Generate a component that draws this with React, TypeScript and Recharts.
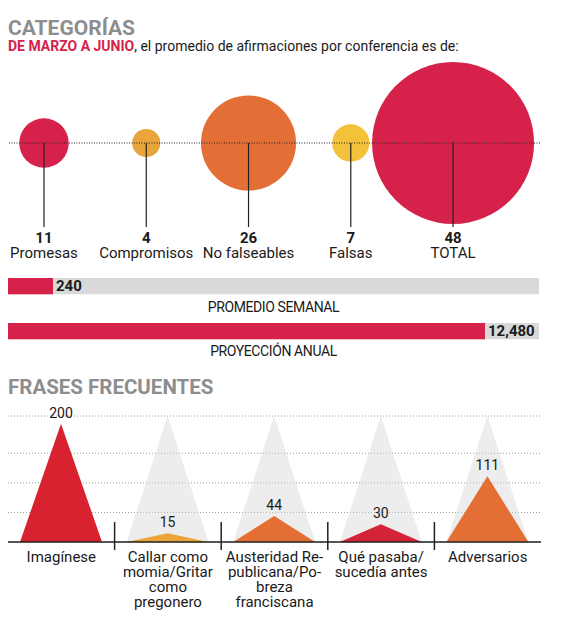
import type { CSSProperties, ReactNode } from 'react';
import {
  Bar,
  BarChart,
  CartesianGrid,
  Cell,
  LabelList,
  ReferenceLine,
  Scatter,
  ScatterChart,
  XAxis,
  YAxis,
  ZAxis,
} from 'recharts';

// Categorías (promedio por conferencia)
const CATEGORIAS = ['Promesas', 'Compromisos', 'No falseables', 'Falsas', 'TOTAL'];
const CATEGORIA_VALUES = [11, 4, 26, 7, 48];
const CATEGORIA_COLORS = ['#d6224a', '#e9a53b', '#e46f36', '#f4c13a', '#d6224a'];

// Barras de totales
const SEMANAL_LABEL = 'PROMEDIO SEMANAL';
const SEMANAL_VALUE = 240;
const ANUAL_LABEL = 'PROYECCIÓN ANUAL';
const ANUAL_VALUE = 12480;

// Frases frecuentes
const FRASES = [
  'Imagínese',
  'Callar como\nmomia/Gritar\ncomo\npregonero',
  'Austeridad Re-\npublicana/Po-\nbreza\nfranciscana',
  'Qué pasaba/\nsucedía antes',
  'Adversarios',
];
const FRASE_VALUES = [200, 15, 44, 30, 111];
const FRASE_COLORS = ['#d8222f', '#e9a53b', '#e46f35', '#d42336', '#e46f35'];
const FRASE_GRID = [50, 100, 150];

const FONT = 'Roboto, "DejaVu Sans", sans-serif';
const RED = '#d6224a';
const INK = '#1a1a1a';

// absolute text placed by its baseline (Roboto metrics)
function Txt({
  left,
  width,
  baseline,
  size,
  style,
  children,
}: {
  left: number;
  width?: number;
  baseline: number;
  size: number;
  style?: CSSProperties;
  children: ReactNode;
}) {
  return (
    <div
      style={{
        position: 'absolute',
        left,
        width,
        top: baseline - 0.842 * size,
        fontSize: size,
        lineHeight: `${size}px`,
        whiteSpace: 'nowrap',
        color: INK,
        ...style,
      }}
    >
      {children}
    </div>
  );
}

const bubbleData = CATEGORIAS.map((name, idx) => ({
  idx,
  y: 0,
  name,
  value: CATEGORIA_VALUES[idx],
}));

function Bubble(props: any) {
  const { cx, cy, size, width, index } = props;
  const r = typeof size === 'number' ? size : width / 2;
  return (
    <g>
      <circle cx={cx} cy={cy} r={r} fill={CATEGORIA_COLORS[index]} />
      <line x1={cx} y1={cy} x2={cx} y2={cy + 84} stroke="#222" strokeWidth={1.2} />
    </g>
  );
}

function BubbleTick(props: any) {
  const { x, y, payload } = props;
  const i = payload.value as number;
  return (
    <g>
      <text x={x} y={y + 17} textAnchor="middle" fontSize={15} fontWeight={700} fill={INK} fontFamily={FONT}>
        {CATEGORIA_VALUES[i]}
      </text>
      <text x={x} y={y + 32} textAnchor="middle" fontSize={15} fill={INK} fontFamily={FONT}>
        {CATEGORIAS[i]}
      </text>
    </g>
  );
}

function BarValue(props: any) {
  const { x, y, width, height, value } = props;
  return (
    <text
      x={x + width + 3}
      y={y + height / 2 + 5}
      fontSize={15}
      fontWeight={700}
      fill={INK}
      fontFamily={FONT}
    >
      {Number(value).toLocaleString('en-US')}
    </text>
  );
}

function TotalBar({ label, value, max }: { label: string; value: number; max: number }) {
  return (
    <BarChart
      width={573}
      height={32}
      layout="vertical"
      data={[{ name: label, value }]}
      margin={{ top: 7, right: 34, bottom: 7, left: 8 }}
    >
      <XAxis type="number" hide domain={[0, max]} allowDataOverflow />
      <YAxis type="category" dataKey="name" hide />
      <Bar
        dataKey="value"
        fill={RED}
        barSize={18}
        background={{ fill: '#d9d9d9' }}
        isAnimationActive={false}
      >
        <LabelList dataKey="value" content={BarValue} />
      </Bar>
    </BarChart>
  );
}

const fraseData = FRASES.map((name, i) => ({ name, value: FRASE_VALUES[i] }));

function Triangle(props: any) {
  const { x, y, width, height, fill } = props;
  if (!height || height <= 0) return <g />;
  return <path d={`M${x},${y + height}L${x + width / 2},${y}L${x + width},${y + height}Z`} fill={fill} />;
}

function Ghost(props: any) {
  const { x, y, width, height, index } = props;
  if (index === 0) return <g />;
  return (
    <path
      d={`M${x},${y + height}L${x + width / 2},${y}L${x + width},${y + height}Z`}
      fill="#d6d6d6"
      fillOpacity={0.45}
    />
  );
}

function FraseTick(props: any) {
  const { x, y, payload } = props;
  const lines = String(payload.value).split('\n');
  const half = payload.offset || 53.3;
  return (
    <g>
      {payload.index > 0 && (
        <line x1={x - half} y1={y - 20} x2={x - half} y2={y + 8} stroke="#222" strokeWidth={1.5} />
      )}
      <text textAnchor="middle" fontSize={15} fill={INK} fontFamily={FONT}>
        {lines.map((l, k) => (
          <tspan key={k} x={x} y={y + 20 + k * 15}>
            {l}
          </tspan>
        ))}
      </text>
    </g>
  );
}

export default function App() {
  return (
    <div
      style={{
        position: 'absolute',
        left: 0,
        top: 0,
        width: 573,
        height: 630,
        background: '#fff',
        fontFamily: FONT,
        overflow: 'hidden',
      }}
    >
      <Txt left={8} baseline={37} size={21} style={{ fontWeight: 700, color: '#8d8d8d', lineHeight: '18px' }}>
        CATEGORÍAS
      </Txt>
      <Txt left={8} baseline={51} size={14}>
        <span style={{ color: RED, fontWeight: 700 }}>DE MARZO A JUNIO</span>, el promedio de
        afirmaciones por conferencia es de:
      </Txt>

      <div style={{ position: 'absolute', left: 0, top: 0 }}>
        <ScatterChart width={573} height={270} margin={{ top: 60, right: 32, bottom: 4, left: 9 }}>
          <XAxis
            type="number"
            dataKey="idx"
            domain={[-0.342, 4.86]}
            allowDataOverflow
            ticks={[0, 1, 2, 3, 4]}
            interval={0}
            height={40}
            axisLine={false}
            tickLine={false}
            tickSize={0}
            tickMargin={0}
            tick={BubbleTick}
          />
          <YAxis type="number" dataKey="y" hide domain={[-1, 1]} />
          <ZAxis type="number" dataKey="value" domain={[0, 48]} range={[8, 81]} />
          <Scatter data={bubbleData} shape={Bubble} isAnimationActive={false} />
          <ReferenceLine y={0} stroke="#222" strokeDasharray="1 1.5" zIndex={700} />
        </ScatterChart>
      </div>

      <div style={{ position: 'absolute', left: 0, top: 270 }}>
        <TotalBar label={SEMANAL_LABEL} value={SEMANAL_VALUE} max={2832} />
      </div>
      <Txt left={8} width={531} baseline={312} size={14} style={{ textAlign: 'center', letterSpacing: -0.4 }}>
        {SEMANAL_LABEL}
      </Txt>
      <div style={{ position: 'absolute', left: 0, top: 315 }}>
        <TotalBar label={ANUAL_LABEL} value={ANUAL_VALUE} max={13893} />
      </div>
      <Txt left={8} width={531} baseline={356} size={14} style={{ textAlign: 'center', letterSpacing: -0.4 }}>
        {ANUAL_LABEL}
      </Txt>

      <Txt left={8} baseline={394} size={20.5} style={{ fontWeight: 700, color: '#8d8d8d' }}>
        FRASES FRECUENTES
      </Txt>

      <div style={{ position: 'absolute', left: 0, top: 400 }}>
        <BarChart
          width={573}
          height={230}
          data={fraseData}
          margin={{ top: 16, right: 32, bottom: 0, left: 8 }}
        >
          <CartesianGrid vertical={false} stroke="#9a9a9a" strokeDasharray="1 2" />
          <XAxis
            dataKey="name"
            height={88}
            interval={0}
            axisLine={{ stroke: '#222', strokeWidth: 1.5 }}
            tickLine={false}
            tickSize={0}
            tickMargin={0}
            tick={FraseTick}
          />
          <YAxis hide domain={[0, 213]} ticks={FRASE_GRID} allowDataOverflow />
          <Bar
            dataKey="value"
            barSize={82}
            shape={Triangle}
            background={Ghost}
            isAnimationActive={false}
          >
            {FRASE_COLORS.map((c, i) => (
              <Cell key={i} fill={c} />
            ))}
            <LabelList dataKey="value" position="top" offset={6} fill={INK} fontSize={14} fontFamily={FONT} />
          </Bar>
        </BarChart>
      </div>
    </div>
  );
}
